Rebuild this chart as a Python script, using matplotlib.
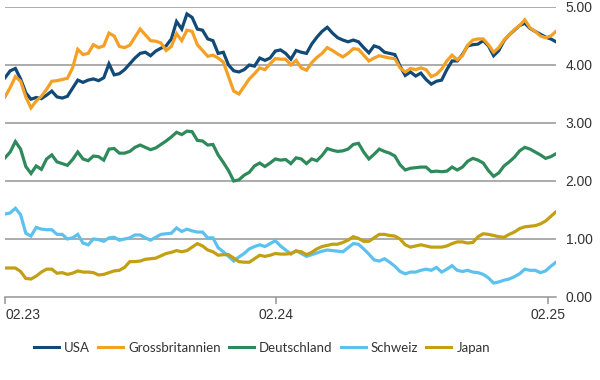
import pandas as pd
import matplotlib
matplotlib.use("Agg")
import matplotlib.pyplot as plt

# weekly 10y government bond yields, Feb 2023 - Feb 2025
dates = pd.date_range("2023-02-01", periods=107, freq="7D")

usa = [3.78, 3.90, 3.94, 3.76, 3.52, 3.41, 3.44, 3.42, 3.48, 3.55,
       3.45, 3.43, 3.46, 3.60, 3.74, 3.70, 3.74, 3.76, 3.73, 3.78,
       4.02, 3.83, 3.85, 3.92, 4.02, 4.12, 4.20, 4.22, 4.16, 4.24,
       4.29, 4.33, 4.45, 4.75, 4.62, 4.88, 4.82, 4.62, 4.60, 4.45,
       4.42, 4.20, 4.22, 4.00, 3.90, 3.88, 3.92, 4.00, 3.98, 4.12,
       4.08, 4.12, 4.24, 4.26, 4.20, 4.10, 4.25, 4.22, 4.20, 4.36,
       4.48, 4.58, 4.65, 4.55, 4.47, 4.43, 4.40, 4.43, 4.40, 4.30,
       4.21, 4.33, 4.30, 4.22, 4.20, 4.18, 3.98, 3.82, 3.88, 3.81,
       3.86, 3.75, 3.67, 3.72, 3.74, 3.92, 4.07, 4.07, 4.18, 4.33,
       4.35, 4.36, 4.42, 4.33, 4.16, 4.25, 4.42, 4.52, 4.60, 4.68,
       4.72, 4.63, 4.58, 4.53, 4.48, 4.45, 4.40]

gb = [3.45, 3.61, 3.80, 3.72, 3.45, 3.26, 3.38, 3.46, 3.58, 3.72,
      3.73, 3.75, 3.77, 3.95, 4.27, 4.18, 4.20, 4.35, 4.30, 4.33,
      4.55, 4.50, 4.32, 4.30, 4.34, 4.48, 4.62, 4.52, 4.42, 4.41,
      4.38, 4.25, 4.32, 4.54, 4.42, 4.60, 4.58, 4.35, 4.25, 4.15,
      4.17, 4.12, 4.05, 3.80, 3.55, 3.50, 3.63, 3.76, 3.85, 3.95,
      3.92, 4.02, 4.11, 4.10, 4.10, 4.00, 4.08, 3.95, 3.91, 4.04,
      4.13, 4.20, 4.30, 4.25, 4.19, 4.14, 4.20, 4.28, 4.27, 4.17,
      4.07, 4.12, 4.16, 4.14, 4.12, 4.11, 3.95, 3.88, 3.94, 3.92,
      3.95, 3.92, 3.80, 3.84, 3.93, 4.07, 4.17, 4.09, 4.16, 4.34,
      4.43, 4.45, 4.45, 4.35, 4.22, 4.30, 4.43, 4.52, 4.61, 4.68,
      4.78, 4.64, 4.58, 4.50, 4.47, 4.50, 4.58]

de = [2.40, 2.50, 2.68, 2.55, 2.25, 2.13, 2.26, 2.20, 2.38, 2.45,
      2.33, 2.30, 2.27, 2.37, 2.50, 2.38, 2.35, 2.43, 2.42, 2.36,
      2.55, 2.56, 2.48, 2.48, 2.51, 2.58, 2.62, 2.58, 2.54, 2.57,
      2.63, 2.69, 2.76, 2.84, 2.80, 2.86, 2.85, 2.70, 2.69, 2.62,
      2.63, 2.45, 2.32, 2.18, 2.00, 2.02, 2.10, 2.15, 2.26, 2.31,
      2.25, 2.31, 2.38, 2.36, 2.37, 2.30, 2.40, 2.38, 2.30, 2.38,
      2.35, 2.44, 2.56, 2.53, 2.51, 2.52, 2.55, 2.63, 2.65, 2.50,
      2.38, 2.46, 2.55, 2.51, 2.48, 2.43, 2.28, 2.19, 2.22, 2.23,
      2.24, 2.24, 2.16, 2.17, 2.16, 2.17, 2.24, 2.19, 2.24, 2.34,
      2.39, 2.36, 2.31, 2.18, 2.08, 2.14, 2.26, 2.33, 2.41, 2.52,
      2.58, 2.55, 2.50, 2.45, 2.39, 2.42, 2.47]

ch = [1.43, 1.45, 1.53, 1.42, 1.10, 1.05, 1.20, 1.17, 1.16, 1.16,
      1.08, 1.08, 1.00, 1.02, 1.08, 0.93, 0.90, 1.00, 0.99, 0.96,
      1.02, 1.03, 0.98, 1.00, 1.02, 1.07, 1.07, 1.02, 0.98, 1.03,
      1.08, 1.09, 1.10, 1.19, 1.13, 1.17, 1.14, 1.12, 1.12, 1.02,
      1.02, 0.85, 0.78, 0.70, 0.62, 0.69, 0.75, 0.83, 0.87, 0.90,
      0.87, 0.92, 0.97, 0.88, 0.81, 0.74, 0.80, 0.75, 0.70, 0.73,
      0.76, 0.79, 0.81, 0.80, 0.79, 0.78, 0.85, 0.92, 0.91, 0.83,
      0.74, 0.64, 0.62, 0.66, 0.60, 0.53, 0.44, 0.40, 0.43, 0.43,
      0.46, 0.48, 0.46, 0.51, 0.43, 0.48, 0.54, 0.46, 0.44, 0.46,
      0.43, 0.42, 0.39, 0.33, 0.24, 0.26, 0.29, 0.31, 0.35, 0.40,
      0.48, 0.46, 0.46, 0.42, 0.45, 0.53, 0.60]

jp = [0.50, 0.50, 0.50, 0.44, 0.32, 0.31, 0.36, 0.43, 0.48, 0.48,
      0.41, 0.42, 0.39, 0.41, 0.45, 0.43, 0.43, 0.42, 0.38, 0.39,
      0.42, 0.45, 0.46, 0.51, 0.61, 0.61, 0.62, 0.65, 0.66, 0.67,
      0.71, 0.75, 0.77, 0.80, 0.78, 0.80, 0.86, 0.92, 0.88, 0.81,
      0.78, 0.72, 0.73, 0.73, 0.67, 0.61, 0.60, 0.60, 0.66, 0.72,
      0.70, 0.72, 0.75, 0.74, 0.74, 0.75, 0.79, 0.78, 0.73, 0.77,
      0.83, 0.87, 0.89, 0.91, 0.91, 0.94, 0.98, 1.04, 1.01, 0.96,
      0.96, 1.02, 1.08, 1.08, 1.06, 1.05, 1.00, 0.90, 0.86, 0.88,
      0.90, 0.88, 0.86, 0.86, 0.86, 0.88, 0.92, 0.95, 0.95, 0.93,
      0.94, 1.04, 1.09, 1.08, 1.06, 1.04, 1.03, 1.08, 1.12, 1.18,
      1.21, 1.22, 1.23, 1.26, 1.31, 1.39, 1.47]

labels = ["USA", "Grossbritannien", "Deutschland", "Schweiz", "Japan"]
colors = ["#124a77", "#f4a024", "#2f8a5b", "#5dc1ee", "#c2a012"]
tick_dates = ["2023-02-01", "2024-02-01", "2025-02-01"]
tick_labels = ["02.23", "02.24", "02.25"]
y_ticks = [0, 1, 2, 3, 4, 5]

fig = plt.figure(figsize=(6, 3.8), dpi=100)
ax = fig.add_axes([5 / 600, 1 - 297 / 380, 551 / 600, 290 / 380])

for y in y_ticks[1:]:
    ax.axhline(y, color="#949494", lw=1.1, zorder=1)

for series, lab, col in zip([usa, gb, de, ch, jp], labels, colors):
    ax.plot(dates, series, color=col, lw=2.3, label=lab, zorder=3,
            solid_joinstyle="miter")

ax.set_ylim(0, 5)
ax.set_xlim(dates[0], dates[-1])

for s in ["top", "left", "right"]:
    ax.spines[s].set_visible(False)
ax.spines["bottom"].set_color("#949494")
ax.spines["bottom"].set_linewidth(1.1)

ax.yaxis.tick_right()
ax.set_yticks(y_ticks)
ax.set_yticklabels([f"{v:.2f}" for v in y_ticks], fontsize=10,
                   color="#333333", family="Liberation Sans")
ax.tick_params(axis="y", length=0, pad=7)

ax.set_xticks(pd.to_datetime(tick_dates))
ax.set_xticklabels(tick_labels, fontsize=10, color="#333333",
                   family="Liberation Sans")
ax.tick_params(axis="x", length=5, width=1.1, color="#949494", pad=3)
ax.get_xticklabels()[0].set_horizontalalignment("left")

leg = fig.legend(loc="center", bbox_to_anchor=(262 / 600, 1 - 348 / 380),
                 ncol=5, frameon=False, handlelength=1.9, handletextpad=0.4,
                 columnspacing=0.6,
                 prop={"family": "Lato", "size": 9.5})
for line in leg.get_lines():
    line.set_linewidth(2.2)
for t in leg.get_texts():
    t.set_color("#333333")

fig.savefig("out.png", dpi=100)
